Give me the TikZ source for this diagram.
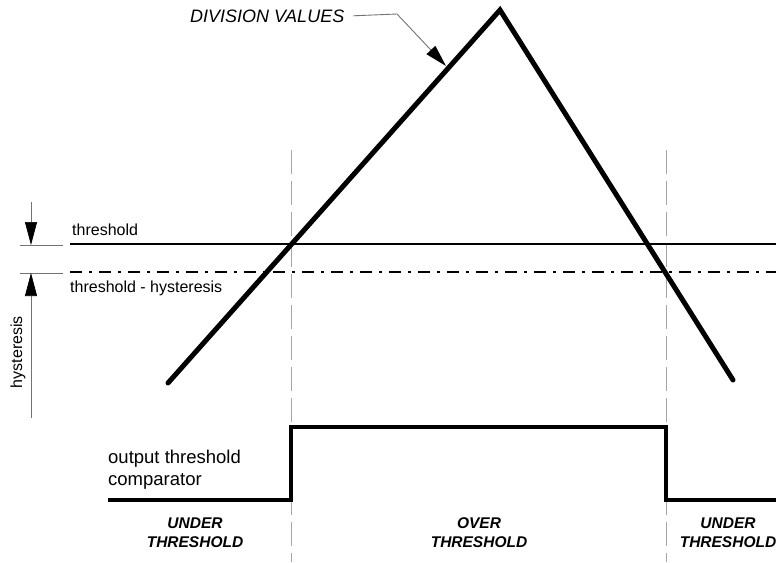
\documentclass[tikz,border=0pt]{standalone}
\usepackage{fontspec}
\setmainfont{Liberation Sans}
\usetikzlibrary{arrows.meta, positioning}

\begin{document}
\begin{tikzpicture}[
    x=1pt, y=-1pt,
    signal/.style={line width=5pt, line cap=round, line join=miter},
    pulse/.style={line width=3.5pt, line join=miter},
    lvl/.style={line width=1.5pt},
    lvlhyst/.style={line width=2.4pt, dash pattern=on 12pt off 7pt on 3pt off 7pt},
    guide/.style={black!35, line width=1pt, dash pattern=on 24pt off 7pt},
    dim/.style={black!55, line width=0.7pt},
    dimarr/.style={dim, -{Triangle[length=23pt, width=12pt, black]}},
    leader/.style={black!55, line width=0.9pt, -{Triangle[length=22pt, width=12pt, black]}},
    lbl/.style={font=\fontsize{16}{19}\selectfont, inner sep=0pt, anchor=base west},
    outlbl/.style={font=\fontsize{18.5}{22}\selectfont, inner sep=0pt, anchor=base west},
    state/.style={font=\fontsize{15.5}{19}\selectfont\bfseries\itshape, align=center, inner sep=0pt}
]
  \useasboundingbox (0,0) rectangle (776,562);

  % regions
  \coordinate (g1top) at (291,150);
  \coordinate (g1bot) at (291,562);
  \coordinate (g2top) at (666,150);
  \coordinate (g2bot) at (666,562);
  \draw[guide] (g1top) -- (g1bot);
  \draw[guide] (g2top) -- (g2bot);

  % levels
  \coordinate (thA) at (70,244);
  \coordinate (thB) at (776,244);
  \coordinate (hyA) at (70,272);
  \coordinate (hyB) at (776,272);
  \draw[lvl] (thA) -- (thB);
  \draw[lvlhyst] (hyA) -- (hyB);
  \node[lbl] (thlbl) at (72,235) {threshold};
  \node[lbl] (hylbl) at (70,292) {threshold - hysteresis};

  % hysteresis dimension
  \coordinate (e1a) at (20,245);
  \coordinate (e1b) at (63,245);
  \coordinate (e2a) at (20,273);
  \coordinate (e2b) at (63,273);
  \coordinate (d1) at (31,202);
  \coordinate (d1tip) at (31,245);
  \coordinate (d2) at (31,418);
  \coordinate (d2tip) at (31,273);
  \draw[dim] (e1a) -- (e1b);
  \draw[dim] (e2a) -- (e2b);
  \draw[dimarr] (d1) -- (d1tip);
  \draw[dimarr] (d2) -- (d2tip);
  \node[lbl, anchor=center, rotate=90] (dimlbl) at (18,352) {hysteresis};

  % division values
  \coordinate (vL) at (168,383);
  \coordinate (vTop) at (500,10);
  \coordinate (vR) at (733,380);
  \draw[signal] (vL) -- (vTop) -- (vR);
  \node[lbl, font=\fontsize{18}{22}\selectfont\itshape] (divlbl) at (190,22) {DIVISION VALUES};
  \coordinate (divbend) at (397,14);
  \coordinate (divtip) at (446,66);
  \draw[leader] ([xshift=9pt]divlbl.east) -- (divbend) -- (divtip);

  % comparator output
  \coordinate (p0) at (108,500);
  \coordinate (p1) at (291,500);
  \coordinate (p2) at (291,427);
  \coordinate (p3) at (666,427);
  \coordinate (p4) at (666,500);
  \coordinate (p5) at (776,500);
  \draw[pulse] (p0) -- (p1) -- (p2) -- (p3) -- (p4) -- (p5);
  \node[outlbl] (out1) at (108,463) {output threshold};
  \node[outlbl] (out2) at (108,485) {comparator};

  \node[state] (st1) at (195,533) {UNDER\\THRESHOLD};
  \node[state] (st2) at (479,533) {OVER\\THRESHOLD};
  \node[state] (st3) at (728,533) {UNDER\\THRESHOLD};
\end{tikzpicture}
\end{document}
